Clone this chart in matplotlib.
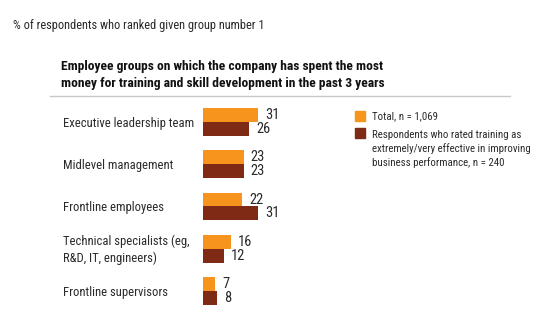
import numpy as np
import matplotlib.pyplot as plt
from matplotlib.patches import Rectangle
from matplotlib.transforms import blended_transform_factory

categories = ['Executive leadership team', 'Midlevel management', 'Frontline employees',
              'Technical specialists (eg,\nR&D, IT, engineers)', 'Frontline supervisors']
total = [31, 23, 22, 16, 7]
effective = [26, 23, 31, 12, 8]
series_names = ['Total, n = 1,069',
                'Respondents who rated training as\nextremely/very effective in improving\nbusiness performance, n = 240']

ORANGE = '#F7941D'
MAROON = '#7F2A14'
TEXT = '#2a2a2a'

plt.rcParams['font.family'] = ['Liberation Sans Narrow', 'Roboto Condensed', 'DejaVu Sans Condensed',
                               'Roboto', 'DejaVu Sans']

W, H = 545, 325
fig = plt.figure(figsize=(W / 100, H / 100), dpi=100)
renderer = fig.canvas.get_renderer()


def fx(px):
    return px / W


def fy(py):
    return 1 - py / H


def fit_size(s, target_px, weight='normal'):
    """font size that makes the (widest line of) s about target_px wide"""
    t = fig.text(0, 0, s, fontsize=10, fontweight=weight)
    w = t.get_window_extent(renderer).width
    t.remove()
    return 10 * target_px / w


cat_fs = fit_size('Executive leadership team', 129)
val_fs = cat_fs * 1.15
title_fs = fit_size('Employee groups on which the company has spent the most', 321, 'bold')
sub_fs = fit_size('% of respondents who ranked given group number 1', 250)
leg_fs = fit_size('extremely/very effective in improving', 158)

# axes in pixel coords: x 203..291.5, y 100..310
ax = fig.add_axes([fx(203), fy(310), fx(291.5) - fx(203), (310 - 100) / H])
y = np.arange(len(categories))
h = 0.33
ax.barh(y - h / 2, total, height=h, color=ORANGE)
ax.barh(y + h / 2, effective, height=h, color=MAROON)
ax.set_xlim(0, 50)
ax.set_ylim(4.45, -0.52)
ax.axis('off')

for i in range(len(categories)):
    ax.annotate(str(total[i]), (total[i], y[i] - h / 2), xytext=(5, 0), textcoords='offset points',
                va='center', ha='left', fontsize=val_fs, color=TEXT)
    ax.annotate(str(effective[i]), (effective[i], y[i] + h / 2), xytext=(5, 0), textcoords='offset points',
                va='center', ha='left', fontsize=val_fs, color=TEXT)

trans = blended_transform_factory(fig.transFigure, ax.transData)
for i, cat in enumerate(categories):
    ax.text(fx(63), y[i] + 0.03, cat, transform=trans, ha='left', va='center', fontsize=cat_fs,
            color=TEXT, linespacing=1.35, clip_on=False)

fig.text(fx(13), fy(25), '% of respondents who ranked given group number 1', fontsize=sub_fs,
         color=TEXT, va='center', ha='left')
fig.text(fx(61), fy(75), 'Employee groups on which the company has spent the most\n'
         'money for training and skill development in the past 3 years',
         fontsize=title_fs, fontweight='bold', color='#111111', va='center', ha='left', linespacing=1.35)
fig.add_artist(plt.Line2D([fx(50), fx(510)], [fy(96.5), fy(96.5)], color='#c8c8c8', lw=1,
                          transform=fig.transFigure))

# legend
fig.add_artist(Rectangle((fx(355), fy(120.5)), 10 / W, 10 / H, color=ORANGE, transform=fig.transFigure))
fig.text(fx(372), fy(116), series_names[0], fontsize=leg_fs, color=TEXT, va='center', ha='left')
fig.add_artist(Rectangle((fx(355), fy(138.5)), 10 / W, 10 / H, color=MAROON, transform=fig.transFigure))
fig.text(fx(372), fy(149), series_names[1], fontsize=leg_fs, color=TEXT, va='center', ha='left',
         linespacing=1.4)

fig.savefig('out.png', dpi=100)
